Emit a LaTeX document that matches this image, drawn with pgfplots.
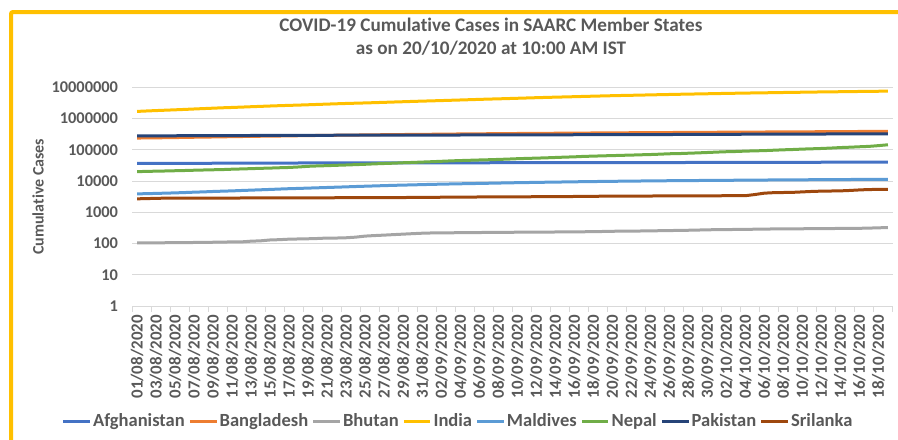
\documentclass[border=0pt]{standalone}
\usepackage{fontspec}
\setmainfont{Carlito}[Ligatures=NoCommon]
\usepackage{pgfplots}
\usepackage{pgfplotstable}
\pgfplotsset{compat=1.18}
\definecolor{afg}{HTML}{4472C4}
\definecolor{ban}{HTML}{ED7D31}
\definecolor{bhu}{HTML}{A5A5A5}
\definecolor{ind}{HTML}{FFC000}
\definecolor{mal}{HTML}{5B9BD5}
\definecolor{nep}{HTML}{70AD47}
\definecolor{pak}{HTML}{264478}
\definecolor{sri}{HTML}{9E480E}
\definecolor{txt}{HTML}{595959}
\definecolor{gridc}{HTML}{D9D9D9}
\definecolor{framec}{HTML}{FFC000}

\pgfplotstableread{
x afg ban bhu ind mal nep pak sri
0 36710 237661 105 1695988 3882 20086 279699 2700
1 36747 240746 105 1750723 3953 20332 280029 2740
2 36782 242102 105 1803695 4020 20750 280461 2800
3 36829 244020 106 1855745 4103 21009 281136 2830
4 36896 246674 106 1908254 4181 21390 281863 2834
5 37015 249651 107 1964536 4286 21750 282645 2839
6 37054 252502 108 2027074 4406 22214 283487 2841
7 37054 255113 108 2088611 4505 22592 284121 2844
8 37162 257600 110 2153010 4637 22972 284660 2844
9 37269 260507 111 2215074 4744 23310 285191 2844
10 37345 263503 113 2268675 4846 23947 285921 2860
11 37424 266498 113 2329638 4988 24432 286674 2869
12 37431 269115 119 2396637 5120 24956 287300 2881
13 37551 271881 122 2461190 5251 25550 288047 2885
14 37596 274525 130 2526192 5392 26019 288717 2888
15 37599 276549 133 2589682 5547 26660 289215 2889
16 37599 279144 138 2647663 5693 27241 289832 2894
17 37856 282344 140 2702742 5812 28257 290445 2897
18 37894 285091 142 2767273 5949 29645 290958 2900
19 37953 287959 145 2836925 6082 30483 291588 2902
20 37999 290360 150 2905823 6225 31116 292174 2914
21 38054 292625 150 2975701 6371 31935 292765 2923
22 38070 294598 153 3044940 6520 32678 293261 2929
23 38113 297083 160 3106348 6682 33533 293711 2930
24 38129 299628 173 3167323 6834 34417 294193 2933
25 38140 302147 180 3234474 6985 35529 294638 2935
26 38143 304583 186 3310234 7139 36456 295053 2943
27 38162 306794 193 3387500 7292 37340 295372 2957
28 38165 308925 200 3463972 7423 38561 295636 2971
29 38196 310822 207 3542733 7547 39460 295849 2984
30 38243 312996 214 3621245 7686 40529 296149 2998
31 38288 314946 218 3691166 7839 41649 296590 3012
32 38304 317528 219 3769523 7949 42877 297014 3033
33 38324 319686 221 3853406 8069 44236 297512 3045
34 38398 321615 222 3936747 8176 45276 298025 3052
35 38494 323565 223 4023179 8279 46256 298509 3074
36 38520 325157 225 4113811 8395 47236 298903 3091
37 38544 327359 227 4204613 8508 48138 299233 3104
38 38572 329251 228 4280422 8627 49218 299659 3104
39 38606 331078 229 4370128 8747 50465 300371 3111
40 38641 332970 230 4465863 8862 51918 300955 3123
41 38716 334762 231 4562414 8961 53120 301481 3142
42 38772 336044 232 4659984 9060 54158 302020 3147
43 38815 337520 233 4754356 9169 55329 302424 3155
44 38855 339332 234 4846427 9259 56788 302814 3168
45 38872 341056 235 4930236 9358 58327 303089 3195
46 38883 342671 236 5020359 9462 59572 303634 3204
47 38919 344264 238 5118253 9556 61593 304386 3233
48 39044 345805 240 5214677 9640 62796 304774 3250
49 39074 347372 243 5308014 9725 64122 305031 3271
50 39096 348916 247 5400619 9811 65276 305671 3280
51 39145 350621 248 5487580 9888 66631 306304 3287
52 39170 352178 249 5562663 9960 67803 306886 3300
53 39186 353844 252 5646010 10039 69300 307418 3313
54 39192 355384 255 5732518 10114 70613 308217 3320
55 39227 356767 257 5818570 10181 72503 308799 3333
56 39233 357873 260 5903932 10245 74745 309015 3342
57 39254 359148 263 5992532 10291 75683 309581 3353
58 39268 360555 266 6074702 10355 77817 310841 3362
59 39285 362043 270 6145291 10410 79728 311516 3370
60 39290 363479 275 6225763 10466 82043 312263 3380
61 39297 364987 278 6312584 10515 84570 312806 3382
62 39341 366383 280 6394068 10569 86823 313431 3388
63 39422 367565 282 6473544 10622 88373 314616 3395
64 39486 368690 285 6549373 10688 90814 315260 3402
65 39548 370132 287 6623815 10739 92626 315727 3700
66 39616 371631 290 6685082 10790 94253 316121 4100
67 39693 373151 293 6757131 10838 97167 316934 4250
68 39703 374592 295 6835655 10884 100002 317720 4300
69 39799 375870 296 6906151 10934 102266 318266 4350
70 39870 377073 297 6979423 10978 105447 318932 4500
71 39928 378266 299 7053806 11026 107755 319317 4650
72 39994 379738 300 7120538 11071 110386 320463 4750
73 40026 381275 302 7175880 11120 113750 321218 4800
74 40073 382959 304 7239389 11165 117996 321877 4850
75 40141 384559 305 7307097 11209 121245 322452 5000
76 40200 386086 307 7370468 11252 125163 323019 5200
77 40287 387295 312 7432680 11291 128801 323452 5350
78 40357 388569 318 7494551 11334 136036 324084 5400
79 40510 390206 326 7550273 11379 145200 324744 5450
}\covid

\begin{document}
\begin{tikzpicture}
\path[use as bounding box] (0,0) rectangle (673.5pt,-329.25pt);
\draw[framec, line width=3pt, rounded corners=1.5pt] (8.25pt,-345pt) -- (8.25pt,-9pt) -- (690pt,-9pt);
\begin{axis}[
  at={(99.225pt,-229.5pt)}, anchor=south west,
  scale only axis, width=570.3pt, height=164pt,
  xmin=-0.5, xmax=79.5,
  ymode=log, ymin=1, ymax=10000000,
  axis lines=left, axis line style={-},
  y axis line style={draw=none},
  x axis line style={gridc, line width=0.75pt},
  ymajorgrids, major grid style={gridc, line width=0.75pt},
  yminorticks=false,
  ytick={1,10,100,1000,10000,100000,1000000,10000000},
  yticklabels={1,10,100,1000,10000,100000,1000000,10000000},
  xtick={0,2,...,78},
  xticklabels={01/08/2020,03/08/2020,05/08/2020,07/08/2020,09/08/2020,11/08/2020,13/08/2020,15/08/2020,17/08/2020,19/08/2020,21/08/2020,23/08/2020,25/08/2020,27/08/2020,29/08/2020,31/08/2020,02/09/2020,04/09/2020,06/09/2020,08/09/2020,10/09/2020,12/09/2020,14/09/2020,16/09/2020,18/09/2020,20/09/2020,22/09/2020,24/09/2020,26/09/2020,28/09/2020,30/09/2020,02/10/2020,04/10/2020,06/10/2020,08/10/2020,10/10/2020,12/10/2020,14/10/2020,16/10/2020,18/10/2020},
  minor xtick={-0.5,1.5,...,79.5},
  major tick length=0pt, minor tick length=4.25pt,
  tick align=outside,
  minor tick style={gridc, line width=0.75pt},
  xticklabel style={rotate=90, anchor=east, inner sep=0pt, font=\fontsize{12.7}{12.7}\selectfont\bfseries, text=txt},
  xticklabel shift=6.75pt,
  yticklabel style={anchor=east, inner sep=0pt, font=\fontsize{12.3}{12.3}\selectfont\bfseries, text=txt},
  yticklabel shift=10.5pt,
  /pgf/number format/assume math mode=true,
  ylabel={Cumulative Cases},
  ylabel style={at={(axis description cs:-0.124,0.5)}, anchor=center, font=\fontsize{12}{12}\selectfont\bfseries, text=txt},
  title={COVID-19 Cumulative Cases in SAARC Member States\\as on 20/10/2020 at 10:00 AM IST},
  title style={at={(axis description cs:0.4717,1.196)}, anchor=center, align=center, font=\fontsize{14.4}{17.25}\selectfont\bfseries, text=txt},
  legend columns=-1,
  legend style={at={(axis description cs:0.4283,-0.526)}, anchor=center, draw=none, fill=none,
    font=\fontsize{13.9}{13.9}\selectfont\bfseries, text=txt,
    nodes={inner sep=1.2pt},
    /tikz/every even column/.append style={column sep=1.5pt}},
  legend image code/.code={\draw[#1, line width=2.25pt, line cap=butt] (0pt,0pt) -- (20pt,0pt);},
  every axis plot/.append style={line width=2.25pt, line join=round, no marks},
]
\addplot[afg] table[x=x, y=afg] {\covid};
\addplot[ban] table[x=x, y=ban] {\covid};
\addplot[bhu] table[x=x, y=bhu] {\covid};
\addplot[ind] table[x=x, y=ind] {\covid};
\addplot[mal] table[x=x, y=mal] {\covid};
\addplot[nep] table[x=x, y=nep] {\covid};
\addplot[pak] table[x=x, y=pak] {\covid};
\addplot[sri] table[x=x, y=sri] {\covid};
\legend{Afghanistan,Bangladesh,Bhutan,India,Maldives,Nepal,Pakistan,Srilanka}
\end{axis}
\end{tikzpicture}
\end{document}
